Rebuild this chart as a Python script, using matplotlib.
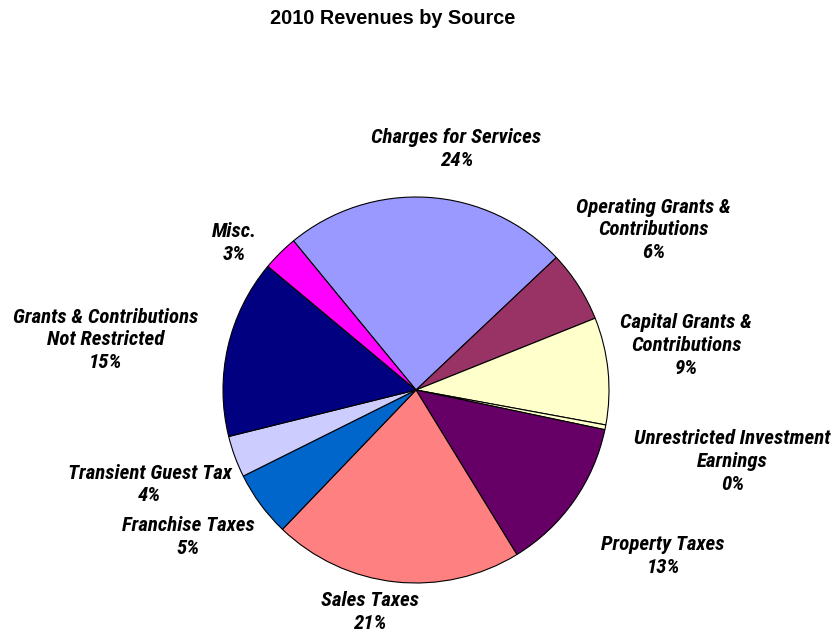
import matplotlib.pyplot as plt

sources = ['Charges for Services', 'Operating Grants &\nContributions',
           'Capital Grants &\nContributions', 'Unrestricted Investment\nEarnings',
           'Property Taxes', 'Sales Taxes', 'Franchise Taxes', 'Transient Guest Tax',
           'Grants & Contributions\nNot Restricted', 'Misc.']
shares = [24.0, 6.0, 9.0, 0.4, 13.0, 21.0, 5.5, 3.5, 15.0, 3.0]
pct_labels = ['24%', '6%', '9%', '0%', '13%', '21%', '5%', '4%', '15%', '3%']
colors = ['#9999FF', '#993366', '#FFFFCC', '#FFFFCC', '#660066', '#FF8080',
          '#0066CC', '#CCCCFF', '#000080', '#FF00FF']
# label centres in pie-radius units
label_pos = [(0.21, 1.25), (1.23, 0.83), (1.40, 0.23), (1.64, -0.37), (1.28, -0.86),
             (-0.24, -1.15), (-1.18, -0.76), (-1.38, -0.49), (-1.61, 0.26), (-0.94, 0.76)]

label_font = ['Roboto Condensed', 'Liberation Sans']

fig = plt.figure(figsize=(8.34, 6.34), dpi=100)
ax = fig.add_axes([0, 0, 1, 1])

ax.pie(shares, colors=colors, startangle=129.4, counterclock=False, radius=1.0,
       wedgeprops=dict(edgecolor='black', linewidth=0.8))

for name, pct, (x, y) in zip(sources, pct_labels, label_pos):
    ax.text(x, y, name + '\n' + pct, ha='center', va='center', fontsize=15,
            fontweight='bold', fontstyle='italic', family=label_font, linespacing=1.25)

ax.set_xlim(-416 / 193, (834 - 416) / 193)
ax.set_ylim(-(634 - 390) / 193, 390 / 193)
ax.set_aspect('auto')
ax.axis('off')

fig.text(0.471, 1 - 18 / 634, '2010 Revenues by Source', ha='center', va='center',
         fontsize=14.3, fontweight='bold', family='Liberation Sans')

fig.savefig('out.png', dpi=100)
